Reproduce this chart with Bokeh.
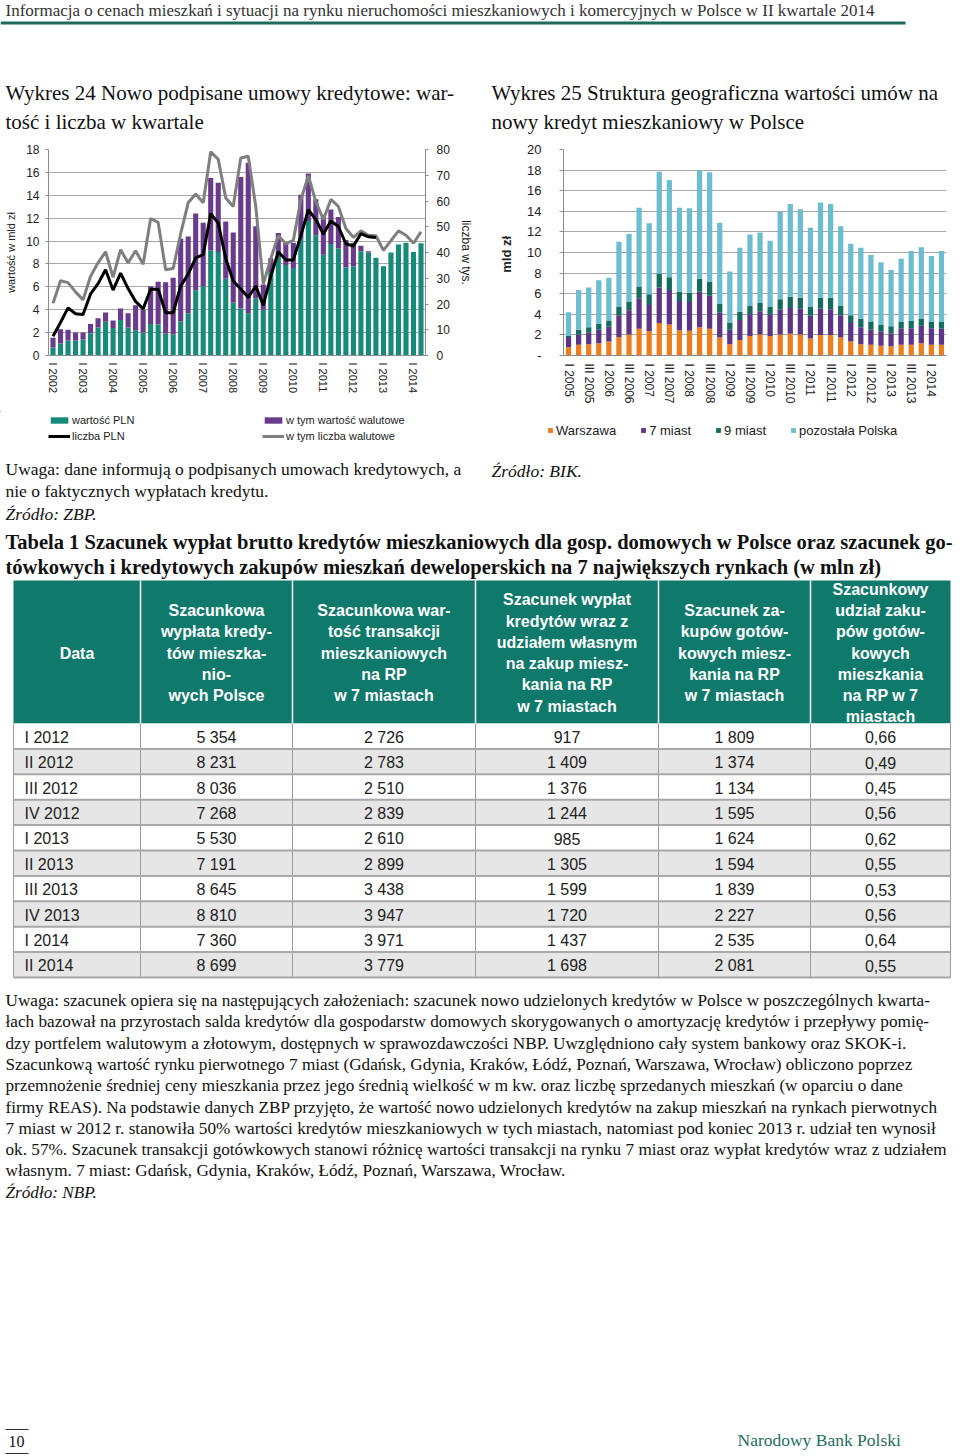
import numpy as np
from bokeh.plotting import figure
from bokeh.models import Range1d, LinearAxis, FixedTicker, ColumnDataSource, Legend, LegendItem
from bokeh.layouts import column, row
from bokeh.embed import file_html
from bokeh.resources import INLINE
from bokeh.core.properties import value

SERIF = "Liberation Serif"
SANS = "Liberation Sans"

# ---------------- data: chart 24 ----------------
roman = ["I", "II", "III", "IV"]
years24 = list(range(2002, 2015))
quarters24 = [f"{roman[q]} {y}" for y in years24 for q in range(4)][:50]   # I 2002 .. II 2014

wartosc_pln = [0.7, 1.05, 1.3, 1.3, 1.4, 1.95, 2.45, 2.95, 2.4, 3.1,
               2.45, 2.2, 2.0, 2.75, 2.7, 1.9, 1.85, 3.0, 3.7, 5.7,
               6.05, 9.2, 9.05, 6.7, 4.6, 4.1, 3.7, 5.0, 4.0, 7.3,
               8.6, 7.9, 7.65, 10.2, 11.75, 10.5, 8.8, 9.75, 9.35, 7.7,
               7.8, 9.1, 9.0, 8.55, 7.8, 9.0, 9.7, 9.85, 9.05, 9.8]
wartosc_walutowe = [0.85, 1.25, 0.95, 0.7, 0.6, 0.8, 0.8, 0.8, 0.65, 1.0,
                    1.25, 2.2, 2.0, 3.3, 3.75, 4.5, 4.95, 7.2, 6.7, 6.7,
                    5.55, 6.3, 6.05, 5.0, 6.15, 11.5, 13.15, 6.3, 2.2, 1.2,
                    2.1, 1.95, 2.2, 3.85, 4.15, 3.15, 3.3, 3.0, 2.75, 2.4,
                    2.05, 0.5, 0.1, 0.0, 0.0, 0.0, 0.0, 0.0, 0.0, 0.0]
liczba_pln = [7.5, 12.8, 18.5, 16.2, 15.9, 23.9, 27.9, 33.3, 25.4, 32.0,
              26.0, 21.0, 18.1, 25.7, 25.7, 16.6, 16.6, 27.0, 31.6, 37.9,
              39.2, 55.1, 51.4, 37.7, 28.9, 25.8, 22.6, 27.0, 19.5, 30.8,
              40.3, 37.1, 37.1, 46.5, 56.6, 52.8, 47.2, 52.2, 50.1, 43.4,
              42.5, 47.3, 46.1, 45.8, None, None, None, None, None, None]
liczba_walutowe = [20.3, 29.0, 28.3, 24.7, 21.6, 30.8, 36.0, 40.3, 30.4, 41.1,
                   36.0, 40.7, 35.4, 53.2, 51.7, 33.3, 33.8, 47.3, 59.3, 62.7,
                   59.3, 79.1, 76.2, 61.2, 57.9, 76.7, 77.4, 57.9, 27.7, 37.7,
                   46.5, 43.4, 44.7, 60.4, 69.8, 59.7, 52.8, 60.6, 57.9, 49.3,
                   45.9, 48.4, 46.7, 46.5, 40.8, 44.6, 48.4, 46.7, 43.6, 48.0]

# ---------------- data: chart 25 ----------------
years25 = list(range(2005, 2015))
quarters25 = [f"{roman[q]} {y}" for y in years25 for q in range(4)][:38]   # I 2005 .. II 2014
warszawa = [0.8, 1.05, 1.1, 1.2, 1.35, 1.8, 2.05, 2.6, 2.35, 3.15,
            3.0, 2.45, 2.4, 2.75, 2.6, 1.75, 1.1, 1.5, 1.9, 2.05,
            1.9, 2.05, 2.1, 2.05, 1.65, 2.0, 2.0, 1.75, 1.35, 1.1,
            1.05, 0.95, 0.9, 1.05, 1.05, 1.2, 1.05, 1.05]
siedem_miast = [1.0, 1.0, 1.1, 1.3, 1.45, 2.1, 2.35, 2.9, 2.55, 3.45,
                3.35, 2.85, 2.8, 3.45, 3.2, 2.4, 1.4, 1.95, 2.1, 2.25,
                2.1, 2.4, 2.5, 2.5, 2.2, 2.55, 2.5, 2.15, 1.8, 1.65,
                1.45, 1.4, 1.25, 1.55, 1.6, 1.7, 1.6, 1.55]
dziewiec_miast = [0.1, 0.45, 0.55, 0.6, 0.6, 0.8, 0.85, 1.2, 1.05, 1.35,
                  1.25, 0.9, 0.9, 1.25, 1.35, 0.85, 0.7, 0.8, 0.8, 0.8,
                  0.7, 1.0, 1.1, 1.05, 0.85, 1.05, 1.1, 0.95, 0.75, 0.8,
                  0.8, 0.65, 0.7, 0.65, 0.7, 0.7, 0.65, 0.65]
pozostala = [2.3, 3.85, 3.85, 4.2, 4.15, 6.35, 6.55, 7.65, 6.9, 9.9,
             9.45, 8.15, 8.2, 10.5, 10.65, 7.9, 4.95, 6.2, 6.95, 6.85,
             6.45, 8.5, 9.0, 8.6, 7.7, 9.25, 9.1, 7.7, 6.95, 6.9,
             6.45, 6.05, 5.45, 6.15, 6.8, 6.9, 6.35, 6.9]

# ---------------- data: table ----------------
tab_headers = ["Data",
               "Szacunkowa\nwypłata kredy-\ntów mieszka-\nnio-\nwych Polsce",
               "Szacunkowa war-\ntość transakcji\nmieszkaniowych\nna RP\nw 7 miastach",
               "Szacunek wypłat\nkredytów wraz z\nudziałem własnym\nna zakup miesz-\nkania na RP\nw 7 miastach",
               "Szacunek za-\nkupów gotów-\nkowych miesz-\nkania na RP\nw 7 miastach",
               "Szacunkowy\nudział zaku-\npów gotów-\nkowych\nmieszkania\nna RP w 7\nmiastach"]
tab_data = ["I 2012", "II 2012", "III 2012", "IV 2012", "I 2013", "II 2013",
            "III 2013", "IV 2013", "I 2014", "II 2014"]
tab_wyplata = ["5 354", "8 231", "8 036", "7 268", "5 530", "7 191", "8 645", "8 810", "7 360", "8 699"]
tab_transakcje = ["2 726", "2 783", "2 510", "2 839", "2 610", "2 899", "3 438", "3 947", "3 971", "3 779"]
tab_kredyty = ["917", "1 409", "1 376", "1 244", "985", "1 305", "1 599", "1 720", "1 437", "1 698"]
tab_gotowka = ["1 809", "1 374", "1 134", "1 595", "1 624", "1 594", "1 839", "2 227", "2 535", "2 081"]
tab_udzial = ["0,66", "0,49", "0,45", "0,56", "0,62", "0,55", "0,53", "0,56", "0,64", "0,55"]

# ---------------- texts ----------------
header_txt = ("Informacja o cenach mieszkań i sytuacji na rynku nieruchomości mieszkaniowych "
              "i komercyjnych w Polsce w II kwartale 2014")
title24 = ["Wykres 24 Nowo podpisane umowy kredytowe: war-", "tość i liczba w kwartale"]
title25 = ["Wykres 25 Struktura geograficzna wartości umów na", "nowy kredyt mieszkaniowy w Polsce"]
note24 = ["Uwaga: dane informują o podpisanych umowach kredytowych, a",
          "nie o faktycznych wypłatach kredytu."]
table_title = ["Tabela 1 Szacunek wypłat brutto kredytów mieszkaniowych dla gosp. domowych w Polsce oraz szacunek go-",
               "tówkowych i kredytowych zakupów mieszkań deweloperskich na 7 największych rynkach (w mln zł)"]
body = ["Uwaga: szacunek opiera się na następujących założeniach: szacunek nowo udzielonych kredytów w Polsce w poszczególnych kwarta-",
        "łach bazował na przyrostach salda kredytów dla gospodarstw domowych skorygowanych o amortyzację kredytów i przepływy pomię-",
        "dzy portfelem walutowym a złotowym, dostępnych w sprawozdawczości NBP. Uwzględniono cały system bankowy oraz SKOK-i.",
        "Szacunkową wartość rynku pierwotnego 7 miast (Gdańsk, Gdynia, Kraków, Łódź, Poznań, Warszawa, Wrocław) obliczono poprzez",
        "przemnożenie średniej ceny mieszkania przez jego średnią wielkość w m kw. oraz liczbę sprzedanych mieszkań (w oparciu o dane",
        "firmy REAS). Na podstawie danych ZBP przyjęto, że wartość nowo udzielonych kredytów na zakup mieszkań na rynkach pierwotnych",
        "7 miast w 2012 r. stanowiła 50% wartości kredytów mieszkaniowych w tych miastach, natomiast pod koniec 2013 r. udział ten wynosił",
        "ok. 57%. Szacunek transakcji gotówkowych stanowi różnicę wartości transakcji na rynku 7 miast oraz wypłat kredytów wraz z udziałem",
        "własnym. 7 miast: Gdańsk, Gdynia, Kraków, Łódź, Poznań, Warszawa, Wrocław."]
legend24_a = ["wartość PLN", "liczba PLN"]
legend24_b = ["w tym wartość walutowe", "w tym liczba walutowe"]
legend25 = ["Warszawa", "7 miast", "9 miast", "pozostała Polska"]

TEAL_BAR = "#188a7a"
PURPLE = "#6a3a8c"
GRAYLINE = "#7f7f7f"
TEAL_HDR = "#0f7a6b"
DARK = "#222222"
cols25 = ["#ef7d1b", "#5e3586", "#146b5e", "#6cbdd1"]

W = 960
MID_TOP, MID_BOT = 135, 411

def blank(w, h, xr, yr):
    f = figure(width=w, height=h, x_range=Range1d(*xr), y_range=Range1d(*yr),
               x_axis_type=None, y_axis_type=None, output_backend="svg",
               toolbar_location=None, min_border=0)
    f.grid.visible = False
    f.outline_line_color = None
    return f

# ================= top strip =================
top = blank(W, MID_TOP, (0, W), (MID_TOP, 0))
top.text(x=[5], y=[10], text=[header_txt], text_font=value(SERIF), text_font_size="17px",
         text_baseline="middle", text_color="#333333")
top.segment(x0=[0], y0=[22.5], x1=[905], y1=[22.5], line_width=3, line_color="#1d6b5a")
top.text(x=[5, 5], y=[92, 121], text=title24, text_font=value(SERIF), text_font_size="21px",
         text_baseline="middle", text_color="#111111")
top.text(x=[491, 491], y=[92, 121], text=title25, text_font=value(SERIF), text_font_size="21px",
         text_baseline="middle", text_color="#111111")

# ================= chart 24 =================
x24 = list(range(len(quarters24)))
src24 = ColumnDataSource(dict(x=x24, pln=wartosc_pln, wal=wartosc_walutowe,
                              lp=[np.nan if v is None else v for v in liczba_pln],
                              lw=liczba_walutowe))
p1 = figure(width=488, height=MID_BOT - MID_TOP, x_range=Range1d(-0.6, 49.6), y_range=Range1d(0, 18),
            output_backend="svg", toolbar_location=None,
            min_border_left=48, min_border_right=63, min_border_top=8,
            min_border_bottom=MID_BOT - 355)
p1.extra_y_ranges = {"n": Range1d(0, 80)}
p1.vbar_stack(["pln", "wal"], x="x", width=0.68, source=src24,
              fill_color=[TEAL_BAR, PURPLE], line_color=None)
p1.line("x", "lw", source=src24, y_range_name="n", line_color=GRAYLINE, line_width=3)
p1.line("x", "lp", source=src24, y_range_name="n", line_color="#000000", line_width=3)

p1.xgrid.visible = False
p1.ygrid.grid_line_color = "#a8a8a8"
p1.outline_line_color = None
p1.yaxis.ticker = FixedTicker(ticks=list(range(0, 19, 2)))
p1.yaxis.axis_label = "wartość w mld zł"
ax_r = LinearAxis(y_range_name="n", ticker=FixedTicker(ticks=list(range(0, 81, 10))),
                  axis_label="liczba w tys.")
p1.add_layout(ax_r, "right")
p1.xaxis.ticker = FixedTicker(ticks=list(range(0, 50, 4)))
p1.xaxis.major_label_overrides = {i: quarters24[i] for i in range(0, 50, 4)}
p1.xaxis.major_label_orientation = "vertical"
for ax in p1.axis:
    ax.axis_line_color = "#8c8c8c"
    ax.major_tick_line_color = "#8c8c8c"
    ax.minor_tick_line_color = None
    ax.major_tick_in = 0
    ax.major_tick_out = 3
    ax.major_label_text_font = SANS
    ax.major_label_text_font_size = "12px"
    ax.major_label_text_color = DARK
    ax.axis_label_text_font = SANS
    ax.axis_label_text_font_size = "11px"
    ax.axis_label_text_font_style = "normal"
    ax.axis_label_text_color = DARK
p1.xaxis.major_label_text_font_size = "11px"
p1.xaxis.major_tick_out = 0
p1.xaxis.major_label_standoff = 7
p1.yaxis.major_label_standoff = 6
p1.yaxis.axis_label_standoff = 6
ax_r.major_label_standoff = 8
ax_r.axis_label_standoff = 6
ax_r.axis_label_text_font_size = "12px"

# ================= chart 25 =================
x25 = list(range(len(quarters25)))
src25 = ColumnDataSource(dict(x=x25, w=warszawa, s=siedem_miast, d=dziewiec_miast, p=pozostala))
p2 = figure(width=W - 488, height=MID_BOT - MID_TOP, x_range=Range1d(-0.5, 37.5), y_range=Range1d(0, 20),
            output_backend="svg", toolbar_location=None,
            min_border_left=75, min_border_right=14, min_border_top=14,
            min_border_bottom=MID_BOT - 362)
p2.vbar_stack(["w", "s", "d", "p"], x="x", width=0.52, source=src25,
              fill_color=cols25, line_color=None)
p2.xgrid.visible = False
p2.ygrid.grid_line_color = "#a8a8a8"
p2.outline_line_color = None
p2.yaxis.ticker = FixedTicker(ticks=list(range(0, 21, 2)))
p2.yaxis.major_label_overrides = {0: "-"}
p2.yaxis.axis_label = "mld  zł"
p2.xaxis.ticker = FixedTicker(ticks=list(range(0, 38, 2)))
p2.xaxis.major_label_overrides = {i: quarters25[i] for i in range(0, 38, 2)}
p2.xaxis.major_label_orientation = "vertical"
for ax in p2.axis:
    ax.axis_line_color = "#8c8c8c"
    ax.major_tick_line_color = "#8c8c8c"
    ax.minor_tick_line_color = None
    ax.major_tick_in = 0
    ax.major_tick_out = 4
    ax.major_label_text_font = SANS
    ax.major_label_text_font_size = "13px"
    ax.major_label_text_color = DARK
    ax.axis_label_text_font = SANS
    ax.axis_label_text_font_size = "13px"
    ax.axis_label_text_font_style = "bold"
    ax.axis_label_text_color = DARK
p2.xaxis.major_label_text_font_size = "12px"
p2.yaxis.major_label_standoff = 18
p2.yaxis.axis_label_standoff = 10
p2.xaxis.major_tick_out = 0
p2.xaxis.major_label_standoff = 8

# ================= bottom page =================
H_BOT = 1456 - MID_BOT
bot = blank(W, H_BOT, (0, W), (1456, MID_BOT))

# legends of both charts: legend-only renderers whose single point lies off the canvas
off = ColumnDataSource(dict(x=[-5000, -4000], y=[-5000, -5000]))
lg_pln = bot.vbar(x="x", top="y", width=1, source=off, fill_color=TEAL_BAR, line_color=None)
lg_lp = bot.line(x="x", y="y", source=off, line_color="#000000", line_width=3)
lg_wal = bot.vbar(x="x", top="y", width=1, source=off, fill_color=PURPLE, line_color=None)
lg_lw = bot.line(x="x", y="y", source=off, line_color=GRAYLINE, line_width=3)
lg25 = [bot.vbar(x="x", top="y", width=1, source=off, fill_color=c, line_color=None) for c in cols25]

common24 = dict(orientation="vertical", spacing=2, label_height=14, glyph_height=8,
                glyph_width=22, label_standoff=2, label_text_font=SANS,
                label_text_font_size="11px", label_text_color=DARK,
                background_fill_alpha=0, border_line_alpha=0, padding=0, margin=0)
legA = Legend(items=[LegendItem(label=legend24_a[0], renderers=[lg_pln], index=0),
                     LegendItem(label=legend24_a[1], renderers=[lg_lp], index=0)],
              location=(48, 1456 - 443), **common24)
legB = Legend(items=[LegendItem(label=legend24_b[0], renderers=[lg_wal], index=0),
                     LegendItem(label=legend24_b[1], renderers=[lg_lw], index=0)],
              location=(262, 1456 - 443), **common24)
legC = Legend(items=[LegendItem(label=l, renderers=[r], index=0) for l, r in zip(legend25, lg25)],
              location=(547, 1456 - 438), orientation="horizontal", spacing=24, label_height=16,
              glyph_height=6, glyph_width=6, label_standoff=3, label_text_font=SANS,
              label_text_font_size="13px", label_text_color=DARK,
              background_fill_alpha=0, border_line_alpha=0, padding=0, margin=0)
bot.add_layout(legA)
bot.add_layout(legB)
bot.add_layout(legC)

bot.text(x=[5, 5], y=[468, 490], text=note24, text_font=value(SERIF), text_font_size="17.5px",
         text_baseline="middle", text_color="#111111")
bot.text(x=[5], y=[513], text=["Źródło: ZBP."], text_font=value(SERIF), text_font_size="17.5px",
         text_font_style="italic", text_baseline="middle", text_color="#111111")
bot.text(x=[491], y=[470], text=["Źródło: BIK."], text_font=value(SERIF), text_font_size="17.5px",
         text_font_style="italic", text_baseline="middle", text_color="#111111")
bot.text(x=[5, 5], y=[541, 566], text=table_title, text_font=value(SERIF), text_font_size="20.5px",
         text_font_style="bold", text_baseline="middle", text_color="#111111")

# table geometry
edges = [13, 140, 292, 475, 658, 810, 950]
h_top, h_bot = 580, 723
row_h = 25.4
nrows = len(tab_data)
bot.quad(left=[edges[0]], right=[edges[-1]], top=[h_top], bottom=[h_bot],
         fill_color=TEAL_HDR, line_color=None)
row_top = [h_bot + i * row_h for i in range(nrows)]
row_bot = [t + row_h for t in row_top]
row_fill = ["#ffffff" if i % 2 == 0 else "#e6e6e6" for i in range(nrows)]
bot.quad(left=[edges[0]] * nrows, right=[edges[-1]] * nrows, top=row_top, bottom=row_bot,
         fill_color=row_fill, line_color=None)
inner = edges[1:-1]
bot.segment(x0=inner, y0=[h_top] * len(inner), x1=inner, y1=[h_bot] * len(inner),
            line_color="white", line_width=1.5)
bot.segment(x0=edges, y0=[h_bot] * len(edges), x1=edges, y1=[row_bot[-1]] * len(edges),
            line_color="#9a9a9a", line_width=1)
bot.segment(x0=[edges[0]] * nrows, y0=row_bot, x1=[edges[-1]] * nrows, y1=row_bot,
            line_color="#a8a8a8", line_width=2)
centers = [(edges[i] + edges[i + 1]) / 2 for i in range(len(edges) - 1)]
hdr_y = (h_top + h_bot) / 2 + 1
bot.text(x=centers, y=[hdr_y] * len(centers), text=tab_headers, text_font=value(SANS),
         text_font_size="16px", text_font_style="bold", text_color="white",
         text_align="center", text_baseline="middle", text_line_height=1.25)
row_mid = [(a + b) / 2 + 1 for a, b in zip(row_top, row_bot)]
bot.text(x=[24] * nrows, y=row_mid, text=tab_data, text_font=value(SANS), text_font_size="16px",
         text_color=DARK, text_baseline="middle")
for c, colvals in zip(centers[1:], [tab_wyplata, tab_transakcje, tab_kredyty, tab_gotowka, tab_udzial]):
    bot.text(x=[c] * nrows, y=row_mid, text=colvals, text_font=value(SANS), text_font_size="16px",
             text_color=DARK, text_align="center", text_baseline="middle")

# body text
body_y = [1000 + i * 21.3 for i in range(len(body))]
bot.text(x=[5] * len(body), y=body_y, text=body, text_font=value(SERIF), text_font_size="17.2px",
         text_baseline="middle", text_color="#111111")
bot.text(x=[5], y=[1192], text=["Źródło: NBP."], text_font=value(SERIF), text_font_size="17.2px",
         text_font_style="italic", text_baseline="middle", text_color="#111111")

# footer
bot.segment(x0=[5, 5], y0=[1429, 1453], x1=[28, 28], y1=[1429, 1453], line_color="#333333", line_width=1.2)
bot.text(x=[16], y=[1441], text=["10"], text_font=value(SERIF), text_font_size="16px",
         text_align="center", text_baseline="middle", text_color="#111111")
bot.text(x=[737], y=[1439], text=["Narodowy Bank Polski"], text_font=value(SERIF),
         text_font_size="17.5px", text_baseline="middle", text_color="#1f6e60")

layout = column(top, row(p1, p2), bot)
open("out.html", "w").write(file_html(layout, INLINE))
